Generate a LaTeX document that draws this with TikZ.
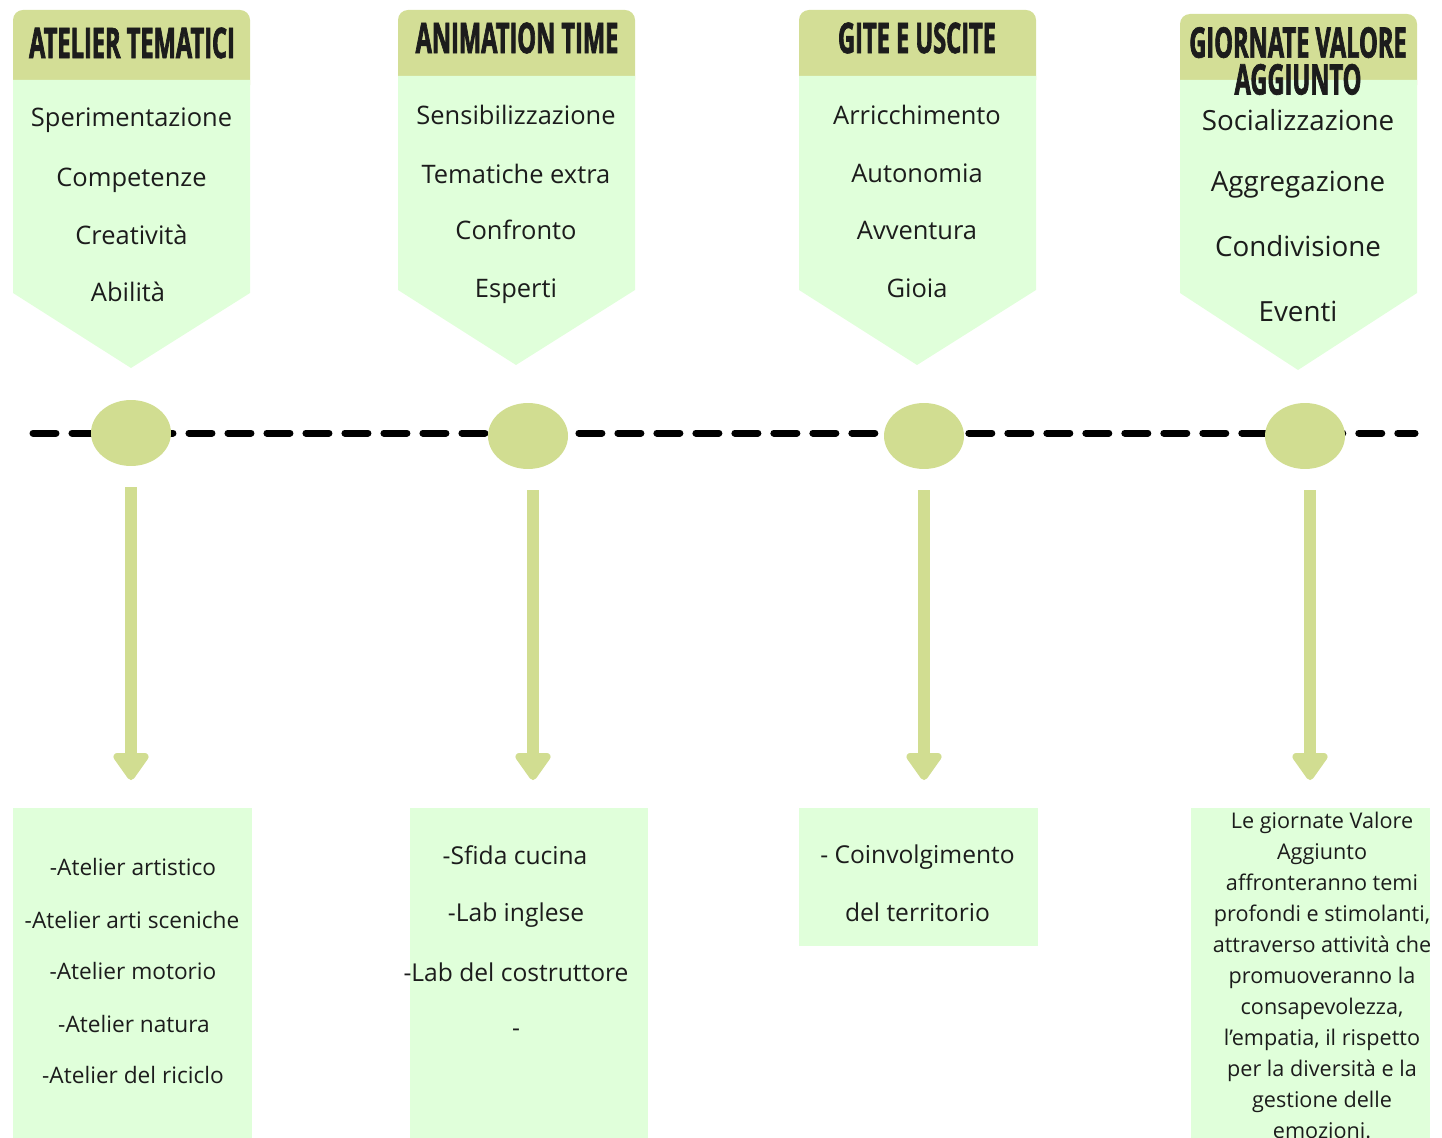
\documentclass[tikz,border=0pt]{standalone}
\usepackage{fontspec}
\setmainfont{Open Sans}
\newfontfamily\headfont[FakeStretch=0.56, BoldFeatures={FakeBold=1.6}]{Open Sans}
\usepackage{xcolor}
\usepackage{tikz}
\usetikzlibrary{positioning,arrows.meta,shapes.geometric}

\definecolor{bandolive}{RGB}{211,222,150}
\definecolor{panelgreen}{RGB}{224,255,218}
\definecolor{dotolive}{RGB}{209,221,145}
\definecolor{inkdark}{RGB}{28,28,28}

\tikzset{
  band/.style={fill=bandolive, rounded corners=0.2cm},
  panel/.style={fill=panelgreen},
  hdtext/.style={font=\headfont\bfseries\fontsize{24}{21}\selectfont, text=inkdark, align=center, inner sep=0pt},
  kw/.style={font=\fontsize{14.5}{17}\selectfont, text=inkdark, inner sep=0pt},
  kwbig/.style={font=\fontsize{15.8}{19}\selectfont, text=inkdark, inner sep=0pt},
  subtxt/.style={font=\fontsize{12.9}{15}\selectfont, text=inkdark, inner sep=0pt},
  subbig/.style={font=\fontsize{14}{17}\selectfont, text=inkdark, inner sep=0pt},
  subbox/.style={fill=panelgreen, anchor=north, inner sep=0pt, minimum width=4.78cm},
  tldot/.style={ellipse, fill=dotolive, inner sep=0pt, minimum width=1.6cm, minimum height=1.32cm},
  droparrow/.style={draw=dotolive, line width=0.24cm, -{Triangle[width=0.8cm,length=0.6cm,round]}, shorten <=0.42cm, shorten >=0.56cm}
}

\begin{document}
\begin{tikzpicture}[x=0.02cm, y=-0.02cm]
    \clip (0,0) rectangle (1442,1138);
    \useasboundingbox (0,0) rectangle (1442,1138);

    % arrow-shaped panels
    \fill[band] (13,10) rectangle (250,95);
    \fill[panel] (13,80) -- (250,80) -- (250,293) -- (131,368) -- (13,293) -- cycle;
    \fill[band] (398,10) rectangle (635,90);
    \fill[panel] (398,76) -- (635,76) -- (635,290) -- (516,365) -- (398,290) -- cycle;
    \fill[band] (799,10) rectangle (1036,90);
    \fill[panel] (799,76) -- (1036,76) -- (1036,290) -- (917,365) -- (799,290) -- cycle;
    \fill[band] (1180,14) rectangle (1417,95);
    \fill[panel] (1180,80) -- (1417,80) -- (1417,293) -- (1298,370) -- (1180,293) -- cycle;

    \node (H1) at (132,43) [hdtext] {ATELIER TEMATICI};
    \node (H2) at (517,38) [hdtext] {ANIMATION TIME};
    \node (H3) at (917,38) [hdtext] {GITE E USCITE};
    \node (H4) at (1298,61) [hdtext] {GIORNATE VALORE\\AGGIUNTO};

    \node (K11) at (131.5,120) [kw] {Sperimentazione};
    \node (K12) at (131.5,180) [kw] {Competenze};
    \node (K13) at (131.5,235) [kw] {Creatività};
    \node (K14) at (128,292) [kw] {Abilità};

    \node (K21) at (516,115) [kw] {Sensibilizzazione};
    \node (K22) at (516,174) [kw] {Tematiche extra};
    \node (K23) at (516,230) [kw] {Confronto};
    \node (K24) at (516,291) [kw] {Esperti};

    \node (K31) at (917,115) [kw] {Arricchimento};
    \node (K32) at (917,173) [kw] {Autonomia};
    \node (K33) at (917,230) [kw] {Avventura};
    \node (K34) at (917,288) [kw] {Gioia};

    \node (K41) at (1298,120) [kwbig] {Socializzazione};
    \node (K42) at (1298,185) [kwbig] {Aggregazione};
    \node (K43) at (1298,246) [kwbig] {Condivisione};
    \node (K44) at (1298,311) [kwbig] {Eventi};

    % timeline
    \coordinate (T0) at (33,433);
    \coordinate (T1) at (1415,433);
    \draw[line width=0.14cm, line cap=round, dash pattern=on 0.46cm off 0.32cm] (T0) -- (T1);

    \node (E1) at (131,433) [tldot] {};
    \node (E2) at (528,436) [tldot] {};
    \node (E3) at (924,436) [tldot] {};
    \node (E4) at (1305,436) [tldot] {};

    % boxes below
    \node (B1) at (132.5,808) [subbox, minimum height=6.6cm] {};
    \node (B2) at (529,808) [subbox, minimum height=6.6cm] {};
    \node (B3) at (918.5,808) [subbox, minimum height=2.76cm] {};
    \node (B4) at (1310,808) [subbox, minimum height=6.6cm] {};

    \draw[droparrow] (E1.south) -- (E1.south |- B1.north);
    \draw[droparrow] ([xshift=0.1cm]E2.south) -- ([xshift=0.1cm]E2.south |- B2.north);
    \draw[droparrow] (E3.south) -- (E3.south |- B3.north);
    \draw[droparrow] ([xshift=0.1cm]E4.south) -- ([xshift=0.1cm]E4.south |- B4.north);

    \node (S11) at (133,867) [subtxt] {-Atelier artistico};
    \node (S12) at (132,920) [subtxt] {-Atelier arti sceniche};
    \node (S13) at (133,971) [subtxt] {-Atelier motorio};
    \node (S14) at (134,1024) [subtxt] {-Atelier natura};
    \node (S15) at (133,1075) [subtxt] {-Atelier del riciclo};

    \node (S21) at (515,855) [subbig] {-Sfida cucina};
    \node (S22) at (516,915) [subbig] {-Lab inglese};
    \node (S23) at (516,972) [subbig] {-Lab del costruttore};
    \node (S24) at (516,1033) [subbig] {-};

    \node (S31) at (917.5,857) [subbig] {- Coinvolgimento};
    \node (S32) at (917.5,912) [subbig] {del territorio};

    \node (S41) at (1322,812) [anchor=north, align=center, text=inkdark, inner sep=0pt,
        font=\fontsize{12.3}{17.6}\selectfont]
        {Le giornate Valore\\Aggiunto\\affronteranno temi\\profondi e stimolanti,\\attraverso attività che\\promuoveranno la\\consapevolezza,\\l'empatia, il rispetto\\per la diversità e la\\gestione delle\\emozioni.};
\end{tikzpicture}
\end{document}
